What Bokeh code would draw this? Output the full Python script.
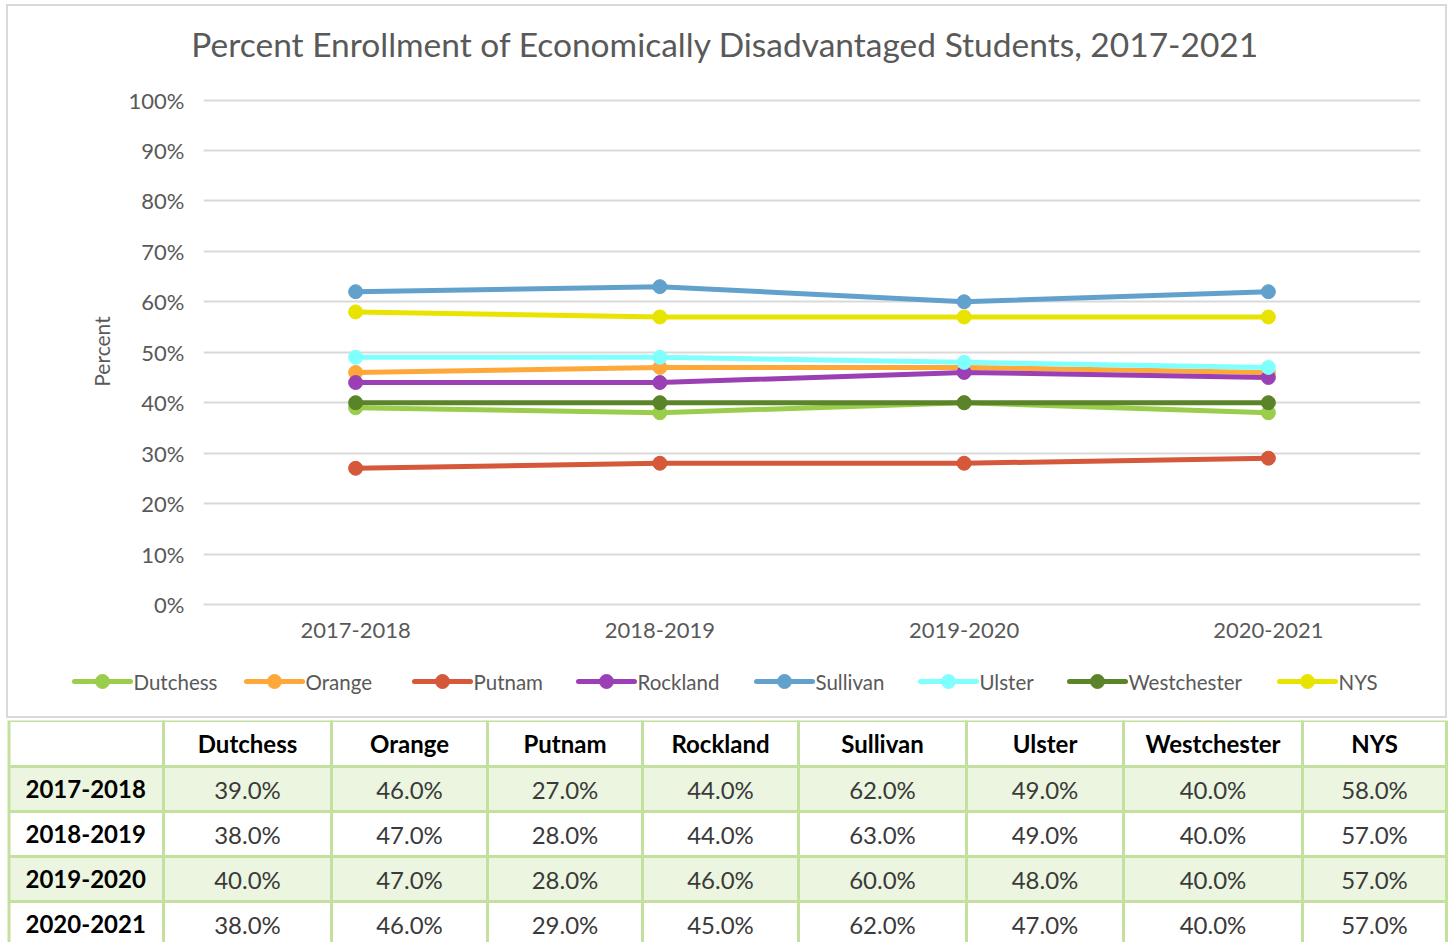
from bokeh.plotting import figure
from bokeh.models import (FactorRange, Range1d, FixedTicker, CustomJSTickFormatter,
                          ColumnDataSource)
from bokeh.layouts import column
from bokeh.embed import file_html
from bokeh.resources import INLINE
from bokeh.core.properties import value

# ---------------- data ----------------
years = ["2017-2018", "2018-2019", "2019-2020", "2020-2021"]
counties = ["Dutchess", "Orange", "Putnam", "Rockland", "Sullivan", "Ulster", "Westchester", "NYS"]
dutchess = [39, 38, 40, 38]
orange = [46, 47, 47, 46]
putnam = [27, 28, 28, 29]
rockland = [44, 44, 46, 45]
sullivan = [62, 63, 60, 62]
ulster = [49, 49, 48, 47]
westchester = [40, 40, 40, 40]
nys = [58, 57, 57, 57]
y_ticks = [0, 10, 20, 30, 40, 50, 60, 70, 80, 90, 100]
title_text = "Percent Enrollment of Economically Disadvantaged Students, 2017-2021"
y_label = "Percent"

series = [dutchess, orange, putnam, rockland, sullivan, ulster, westchester, nys]

# ---------------- styles / layout (page pixels) ----------------
colors = ["#9acd4c", "#ffa83a", "#d5583b", "#9b40b4", "#63a1cd", "#80ffff", "#5b832a", "#e8e400"]
FONT = "Lato"
GRAY = "#595959"
GRID = "#d9d9d9"
PAGE_W = 1452
BOX_L, BOX_T = 6, 4               # chart box outer corner
BW = 2                            # chart box border width
IN_L = BOX_L + BW                 # inner left (8)
IN_W = 1437                       # inner width
IN_T = BOX_T + BW                 # inner top (6)
TT_B = 76                         # title strip bottom
CH_B = 655                        # chart figure bottom
LG_B = 716                        # legend strip bottom
TAB_T, TAB_B = 720, 942
FRAME_L, FRAME_R, FRAME_T, FRAME_B = 203, 1420, 98, 604
title_xy = (725, 43)
legend_glyph_x = [74, 246, 414, 578, 756, 920, 1069, 1279]
legend_cy = 681
GLYPH_W = 56
WHITE_BG = {"background-color": "white"}


def strip(y0, y1, margin):
    f = figure(width=IN_W, height=y1 - y0, x_range=Range1d(IN_L, IN_L + IN_W),
               y_range=Range1d(y1, y0), output_backend="svg", toolbar_location=None,
               x_axis_type=None, y_axis_type=None, min_border=0)
    f.frame_align = False
    f.outline_line_color = None
    f.xgrid.grid_line_color = None
    f.ygrid.grid_line_color = None
    f.margin = margin
    f.styles = WHITE_BG
    return f


# ---------------- title strip ----------------
tf = strip(IN_T, TT_B, (BW, BW, 0, BW))
tf.text(x=[title_xy[0]], y=[title_xy[1]], text=[title_text], text_align="center",
        text_baseline="middle", text_font=value(FONT), text_font_size="33.5px",
        text_color=GRAY)

# ---------------- chart ----------------
p = figure(x_range=FactorRange(*years), y_range=Range1d(0, 100.3),
           width=IN_W, height=CH_B - TT_B, output_backend="svg", toolbar_location=None,
           min_border_left=FRAME_L - IN_L, min_border_right=IN_L + IN_W - FRAME_R,
           min_border_top=FRAME_T - TT_B, min_border_bottom=CH_B - FRAME_B)
p.frame_align = False
p.margin = (0, BW, 0, BW)
p.styles = WHITE_BG
p.outline_line_color = None
p.background_fill_color = "white"
p.border_fill_color = "white"

p.yaxis.ticker = FixedTicker(ticks=y_ticks)
p.yaxis.formatter = CustomJSTickFormatter(code="return tick + '%';")
for ax in (p.xaxis[0], p.yaxis[0]):
    ax.major_label_text_font = FONT
    ax.major_label_text_font_size = "22px"
    ax.major_label_text_color = GRAY
    ax.major_tick_line_color = None
    ax.minor_tick_line_color = None
    ax.major_tick_out = 0
    ax.major_tick_in = 0
p.yaxis.axis_line_color = None
p.yaxis.major_label_standoff = 19
p.yaxis.axis_label = y_label
p.yaxis.axis_label_text_font = FONT
p.yaxis.axis_label_text_font_size = "21px"
p.yaxis.axis_label_text_font_style = "normal"
p.yaxis.axis_label_text_color = GRAY
p.yaxis.axis_label_standoff = 12
p.xaxis.axis_line_color = GRID
p.xaxis.axis_line_width = 2
p.xaxis.major_label_standoff = 18

p.xgrid.grid_line_color = None
p.ygrid.grid_line_color = GRID
p.ygrid.grid_line_width = 2

for i, (name, vals) in enumerate(zip(counties, series)):
    src = ColumnDataSource(dict(x=years, y=vals))
    p.line("x", "y", source=src, line_color=colors[i], line_width=5,
           line_join="round", line_cap="round")
    p.scatter("x", "y", source=src, size=14, fill_color=colors[i],
              line_color=colors[i], marker="circle")

# ---------------- legend strip ----------------
lf = strip(CH_B, LG_B, (0, BW, BW, BW))
lsrc = ColumnDataSource(dict(
    x0=legend_glyph_x,
    x1=[x + GLYPH_W for x in legend_glyph_x],
    xm=[x + GLYPH_W / 2 for x in legend_glyph_x],
    xt=[x + GLYPH_W + 3 for x in legend_glyph_x],
    y=[legend_cy] * len(counties),
    c=colors, label=counties))
lf.segment(x0="x0", x1="x1", y0="y", y1="y", line_color="c", line_width=5,
           line_cap="round", source=lsrc)
lf.scatter(x="xm", y="y", size=14, fill_color="c", line_color="c", source=lsrc)
lf.text(x="xt", y="y", text="label", text_align="left", text_baseline="middle",
        text_font=value(FONT), text_font_size="20.5px", text_color=GRAY, source=lsrc)

chart_box = column(tf, p, lf, spacing=0)
chart_box.margin = (BOX_T, 0, TAB_T - LG_B - BW, BOX_L)
chart_box.styles = {"background-color": GRID}

# ---------------- table ----------------
col_edges = [8.5, 163, 331, 487, 642, 798, 966, 1123, 1302, 1446]
row_edges = [720, 766, 811, 856, 901, 946]
row_fills = ["#ffffff", "#ebf5df", "#ffffff", "#ebf5df", "#ffffff"]
BORDER = "#c4e09e"

t = figure(width=PAGE_W, height=TAB_B - TAB_T, x_range=Range1d(0, PAGE_W),
           y_range=Range1d(TAB_B, TAB_T),
           output_backend="svg", toolbar_location=None,
           x_axis_type=None, y_axis_type=None, min_border=0)
t.frame_align = False
t.outline_line_color = None
t.xgrid.grid_line_color = None
t.ygrid.grid_line_color = None

ql, qr, qt, qb, qf = [], [], [], [], []
for r in range(len(row_edges) - 1):
    for c in range(len(col_edges) - 1):
        ql.append(col_edges[c]); qr.append(col_edges[c + 1])
        qt.append(row_edges[r]); qb.append(row_edges[r + 1])
        qf.append(row_fills[r])
t.quad(left=ql, right=qr, top=qt, bottom=qb, fill_color=qf,
       line_color=BORDER, line_width=3)

hx = [(col_edges[c] + col_edges[c + 1]) / 2 for c in range(1, len(col_edges) - 1)]
hy = [(row_edges[0] + row_edges[1]) / 2] * len(counties)
t.text(x=hx, y=hy, text=counties, text_align="center", text_baseline="middle",
       text_font=value(FONT), text_font_size="24px", text_font_style="bold",
       text_color="#000000")
ry = [(row_edges[r] + row_edges[r + 1]) / 2 for r in range(1, len(row_edges) - 1)]
t.text(x=[25] * len(years), y=ry, text=years, text_align="left", text_baseline="middle",
       text_font=value(FONT), text_font_size="24px", text_font_style="bold",
       text_color="#000000")
vx, vy, vt = [], [], []
for ci, vals in enumerate(series):
    for ri, v in enumerate(vals):
        vx.append(hx[ci]); vy.append(ry[ri]); vt.append(f"{v:.1f}%")
t.text(x=vx, y=vy, text=vt, text_align="center", text_baseline="middle",
       text_font=value(FONT), text_font_size="24px", text_color="#3a3a3a")

layout = column(chart_box, t, spacing=0)
open("out.html", "w").write(file_html(layout, INLINE))
